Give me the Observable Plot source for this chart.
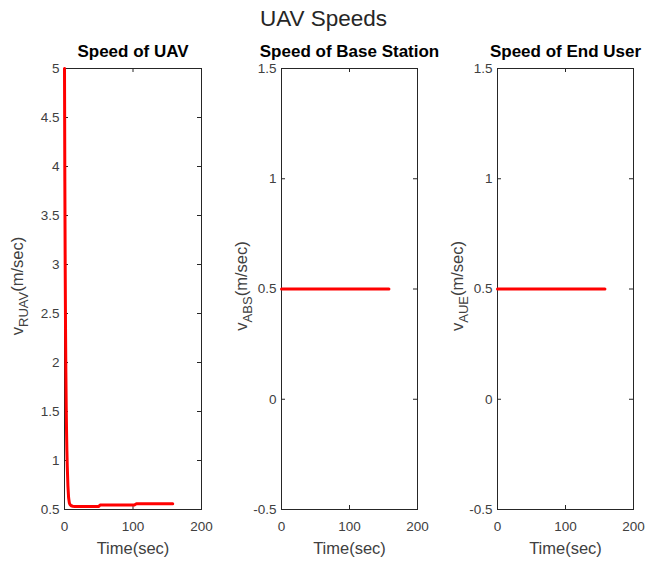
<!DOCTYPE html>
<html>
<head>
<meta charset="utf-8">
<script src="https://cdn.jsdelivr.net/npm/d3@7"></script>
<script src="https://cdn.jsdelivr.net/npm/@observablehq/plot@0.6"></script>
<style>
  body { margin: 0; background: #fff; }
  #fig { position: relative; width: 647px; height: 561px; font-family: "Liberation Sans", Arial, sans-serif; }
  #fig svg { position: absolute; top: 0; }
  #suptitle { position: absolute; left: 0; top: 8px; width: 647px; text-align: center;
              font-size: 22.5px; line-height: 22.5px; color: #262626; }
</style>
</head>
<body>
<div id="fig"><div id="suptitle">UAV Speeds</div></div>
<script>
// Speed of the relay UAV over time (sec, m/sec)
const uavTime  = [0, 0.5, 1, 1.5, 2, 2.5, 3, 3.5, 4, 5, 6, 7, 8, 10, 12, 15, 50, 52, 102, 105, 158];
const uavSpeed = [5.0, 3.85, 3.0, 2.35, 1.9, 1.55, 1.29, 1.1, 0.95, 0.74, 0.62, 0.57, 0.55, 0.538, 0.533, 0.531, 0.531, 0.546, 0.546, 0.559, 0.559];

// Base station and end user move at a constant speed
const bsTime  = [0, 158];
const bsSpeed = [0.5, 0.5];
const ueTime  = [0, 158];
const ueSpeed = [0.5, 0.5];

// Axis ticks
const xTicks      = [0, 100, 200];
const uavYTicks   = [0.5, 1, 1.5, 2, 2.5, 3, 3.5, 4, 4.5, 5];
const otherYTicks = [-0.5, 0, 0.5, 1, 1.5];

// Panel texts
const panelTitles = ["Speed of UAV", "Speed of Base Station", "Speed of End User"];
const ySubscripts = ["RUAV", "ABS", "AUE"];
const xLabel = "Time(sec)";
const yUnit = "(m/sec)";

const FONT = "'Liberation Sans', Arial, sans-serif";
const H = 561, MT = 68, MB = 52;
const INK = "#262626", TXT = "#404040";

function panel({left, width, marginLeft, marginRight, time, speed, yDomain, yTicks, title, sub, labelX}) {
  const plotW = width - marginLeft - marginRight;
  const plotH = H - MT - MB;
  const pts = time.map((t, i) => ({t, v: speed[i]}));
  const tick = 4;
  const svg = Plot.plot({
    width, height: H, marginLeft, marginRight, marginTop: MT, marginBottom: MB,
    style: {fontFamily: FONT, fontSize: "13.5px", color: INK, background: "transparent", overflow: "visible"},
    x: {domain: [0, 200]},
    y: {domain: yDomain},
    marks: [
      Plot.frame({stroke: INK, strokeWidth: 1}),
      Plot.axisX(xTicks, {tickSize: 0, tickPadding: 12, label: null, fill: TXT, tickFormat: d => String(d)}),
      Plot.axisY(yTicks, {tickSize: 0, tickPadding: 5, label: null, fill: TXT, tickFormat: d => String(d)}),
      // inward tick marks on all four sides
      Plot.tickX(xTicks, {x: d => d, insetTop: plotH - tick, stroke: INK}),
      Plot.tickX(xTicks, {x: d => d, insetBottom: plotH - tick, stroke: INK}),
      Plot.tickY(yTicks, {y: d => d, insetRight: plotW - tick, stroke: INK}),
      Plot.tickY(yTicks, {y: d => d, insetLeft: plotW - tick, stroke: INK}),
      Plot.line(pts, {x: "t", y: "v", stroke: "#ff0000", strokeWidth: 3, strokeLinejoin: "round"}),
      Plot.text([title], {text: d => d, frameAnchor: "top", dy: -12, lineAnchor: "bottom",
                          fontWeight: "bold", fontSize: 17, fill: "#000"}),
      Plot.text([xLabel], {text: d => d, frameAnchor: "bottom", dy: 39, lineAnchor: "middle",
                           fontSize: 16.5, fill: TXT})
    ]
  });
  // y-axis label with a subscript
  const cy = 286;
  const t = d3.select(svg).append("text")
    .attr("transform", `translate(${labelX},${cy}) rotate(-90)`)
    .attr("text-anchor", "middle")
    .attr("font-family", FONT)
    .attr("font-size", 16.5)
    .attr("fill", TXT);
  t.append("tspan").text("v");
  t.append("tspan").attr("dy", 5).attr("font-size", 13).text(sub);
  t.append("tspan").attr("dy", -5).text(yUnit);
  svg.style.left = left + "px";
  document.getElementById("fig").appendChild(svg);
}

panel({left: 0, width: 216, marginLeft: 64, marginRight: 15, time: uavTime, speed: uavSpeed,
       yDomain: [0.5, 5], yTicks: uavYTicks, title: panelTitles[0], sub: ySubscripts[0], labelX: 23});
panel({left: 216, width: 216, marginLeft: 65, marginRight: 15, time: bsTime, speed: bsSpeed,
       yDomain: [-0.5, 1.5], yTicks: otherYTicks, title: panelTitles[1], sub: ySubscripts[1], labelX: 31});
panel({left: 432, width: 215, marginLeft: 65, marginRight: 14, time: ueTime, speed: ueSpeed,
       yDomain: [-0.5, 1.5], yTicks: otherYTicks, title: panelTitles[2], sub: ySubscripts[2], labelX: 31});
</script>
</body>
</html>
